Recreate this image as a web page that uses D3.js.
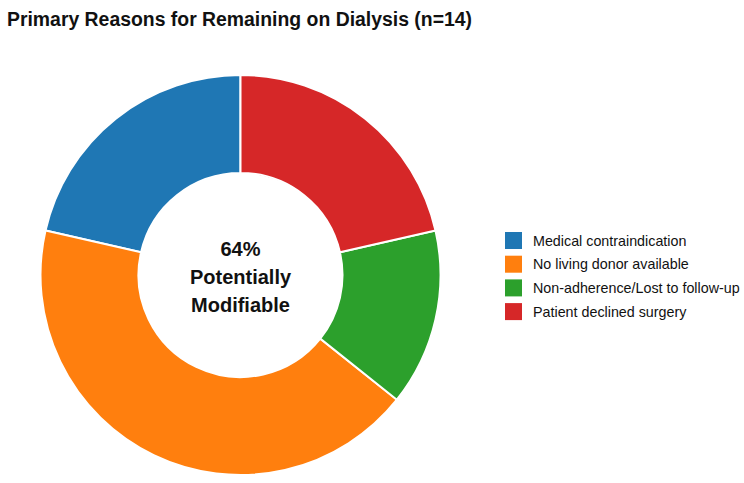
<!DOCTYPE html>
<html>
<head>
<meta charset="utf-8">
<script src="https://cdn.jsdelivr.net/npm/d3@7"></script>
<style>
  body { margin: 0; background: #fff; }
  text { font-family: "Liberation Sans", Arial, sans-serif; }
</style>
</head>
<body>
<div id="chart"></div>
<script>
// Data (counts out of n = 14)
const categories = ["Medical contraindication", "No living donor available", "Non-adherence/Lost to follow-up", "Patient declined surgery"];
const counts = [3, 6, 2, 3];
const colors = ["#1f77b4", "#ff7f0e", "#2ca02c", "#d62728"];
const centerLines = ["64%", "Potentially", "Modifiable"];

const width = 744, height = 483;
const cx = 240.5, cy = 275, outerR = 200, innerR = 102;

const svg = d3.select("#chart").append("svg")
  .attr("width", width)
  .attr("height", height);

svg.append("text")
  .attr("x", 7)
  .attr("y", 26)
  .attr("font-size", 19.4)
  .attr("font-weight", "bold")
  .attr("fill", "#111")
  .text("Primary Reasons for Remaining on Dialysis (n=14)");

const data = categories.map((c, i) => ({ cat: c, value: counts[i], color: colors[i] }));

// slices run counter-clockwise from 12 o'clock in legend order
const pie = d3.pie()
  .value(d => d.value)
  .sort(null)
  .startAngle(0)
  .endAngle(-2 * Math.PI);

const arc = d3.arc().innerRadius(innerR).outerRadius(outerR);

const g = svg.append("g").attr("transform", `translate(${cx}, ${cy})`);

g.selectAll("path")
  .data(pie(data))
  .join("path")
  .attr("d", arc)
  .attr("fill", d => d.data.color)
  .attr("stroke", "#fff")
  .attr("stroke-width", 2);

g.selectAll(".center")
  .data(centerLines)
  .join("text")
  .attr("class", "center")
  .attr("text-anchor", "middle")
  .attr("x", 0)
  .attr("y", (d, i) => -19 + i * 28)
  .attr("font-size", 20)
  .attr("font-weight", "bold")
  .attr("fill", "#111")
  .text(d => d);

// legend
const legend = svg.append("g").attr("transform", "translate(505, 232)");
const rows = legend.selectAll("g")
  .data(data)
  .join("g")
  .attr("transform", (d, i) => `translate(0, ${i * 23.7})`);

rows.append("rect")
  .attr("width", 17)
  .attr("height", 17)
  .attr("fill", d => d.color);

rows.append("text")
  .attr("x", 28)
  .attr("y", 13.5)
  .attr("font-size", 14.3)
  .attr("fill", "#111")
  .text(d => d.cat);
</script>
</body>
</html>
